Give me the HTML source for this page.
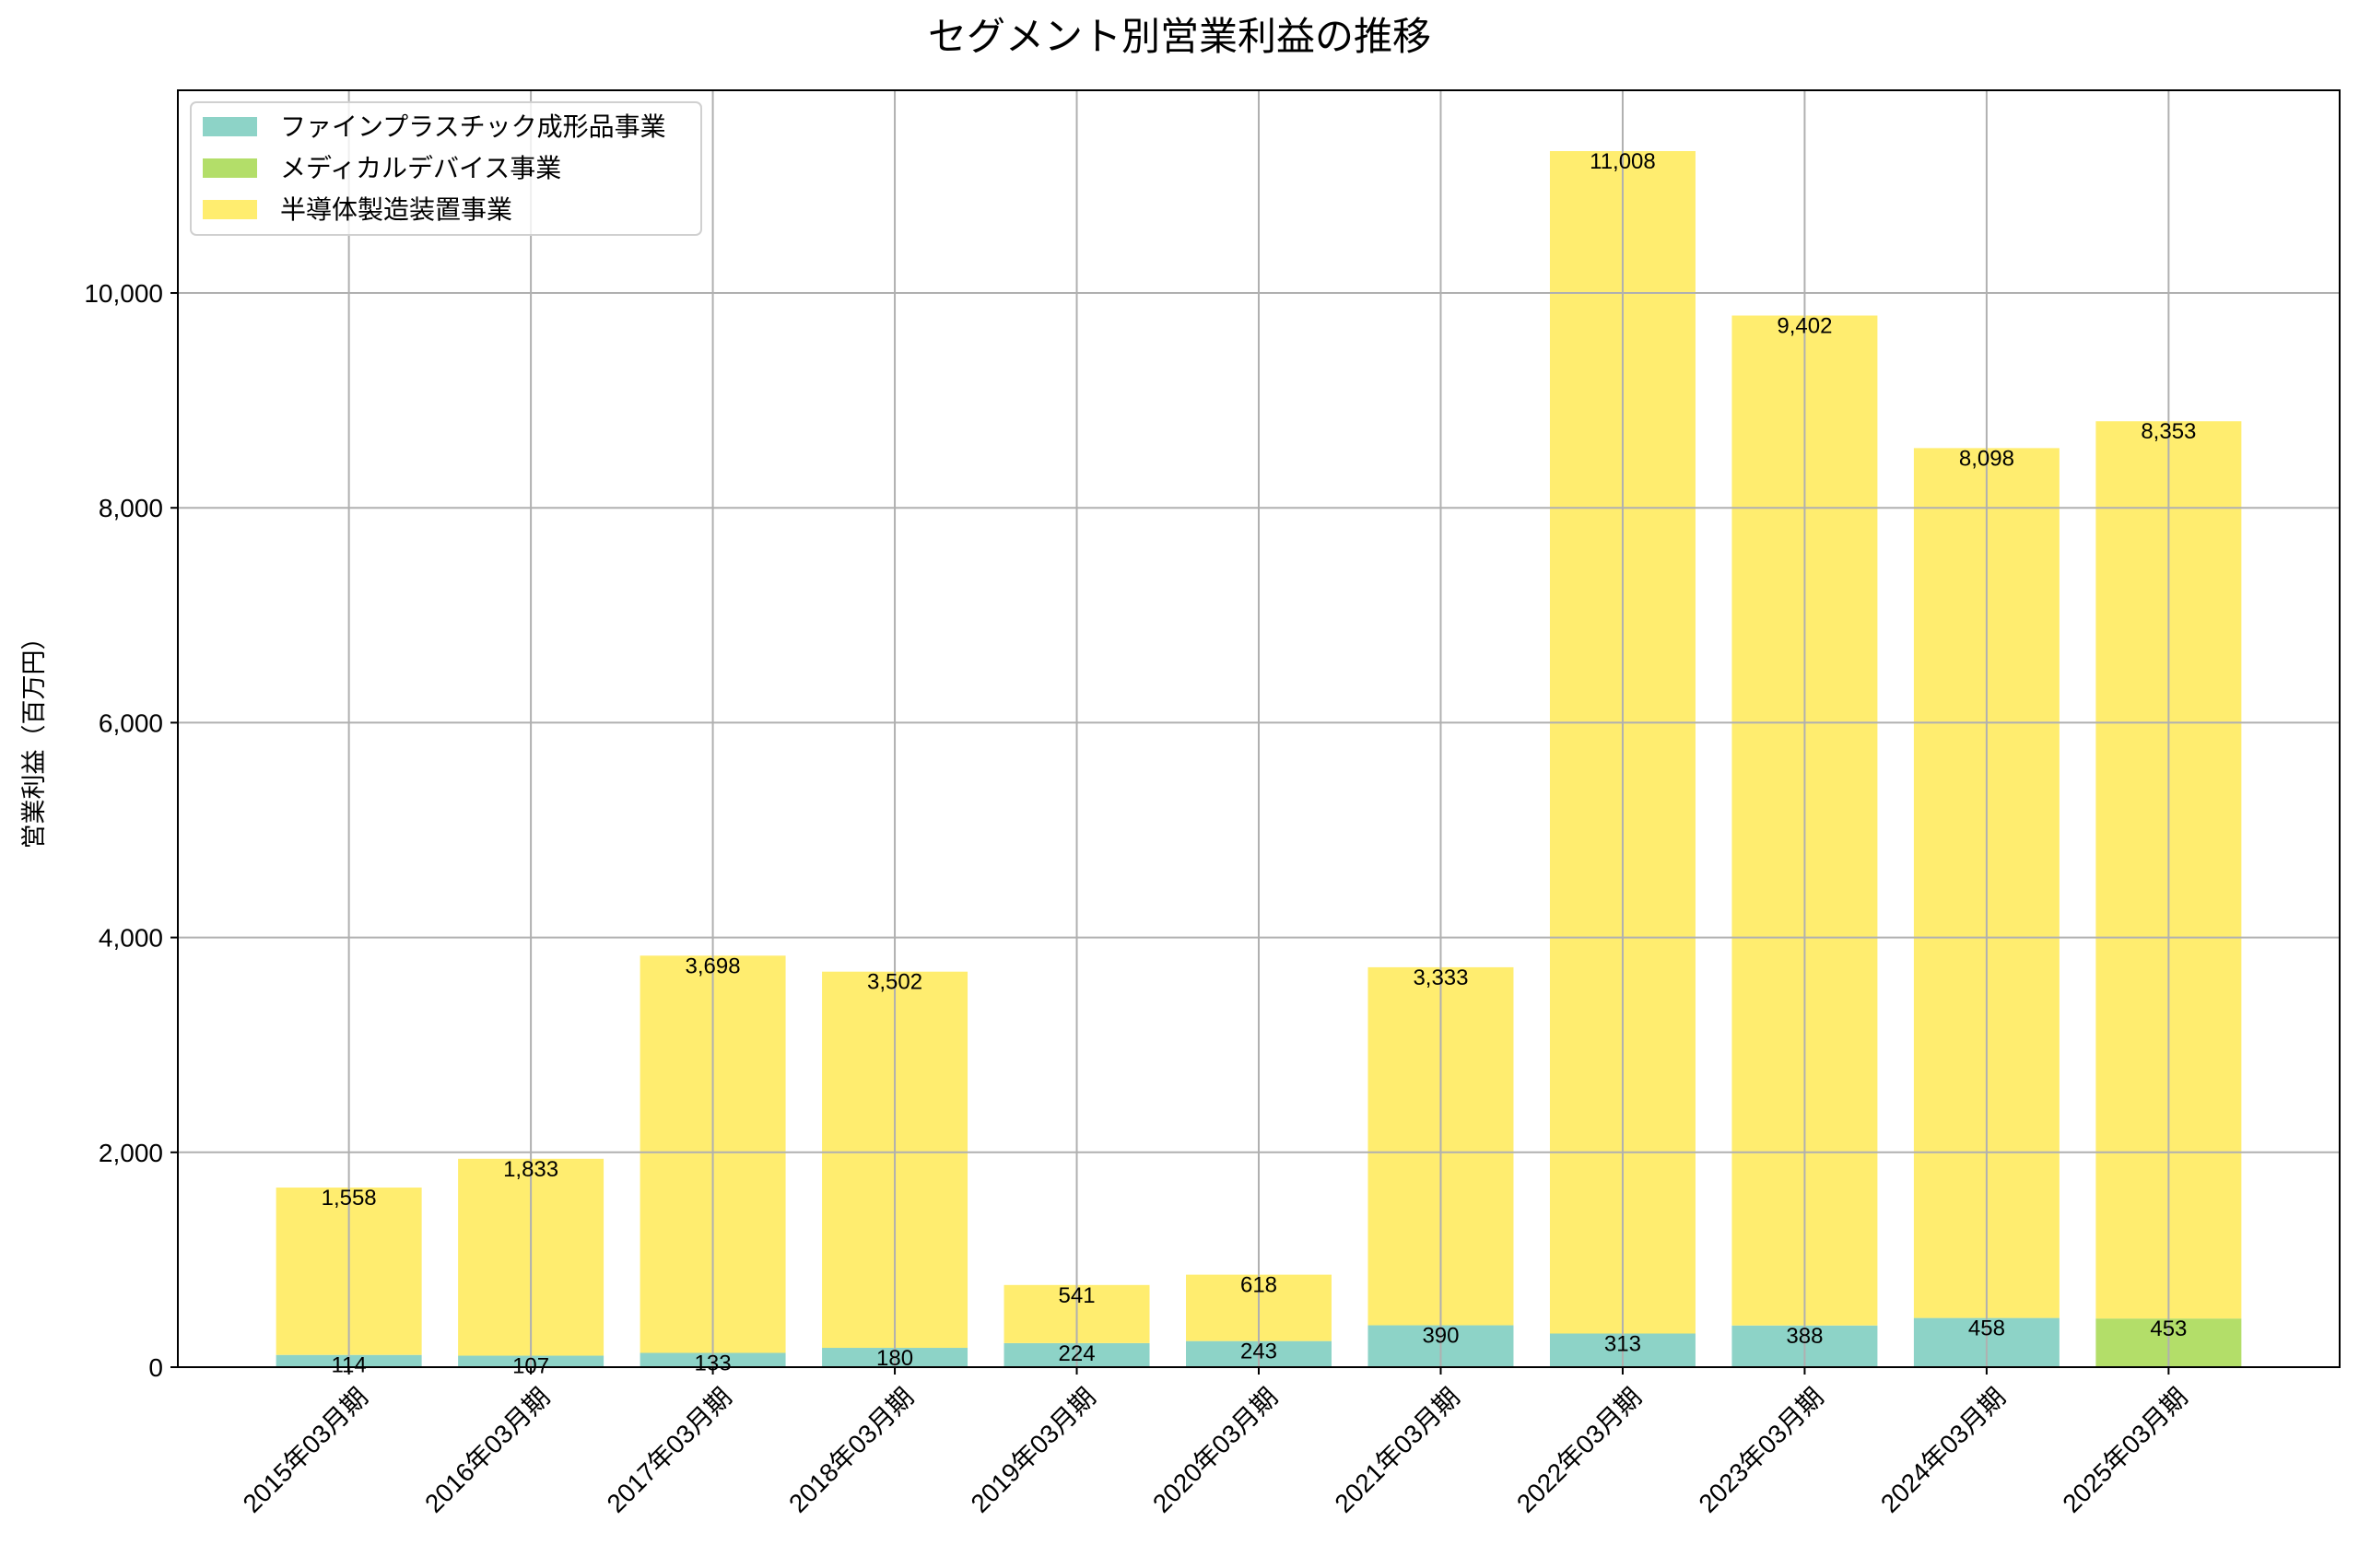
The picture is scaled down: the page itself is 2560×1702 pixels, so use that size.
<!DOCTYPE html>
<html><head><meta charset="utf-8"><style>
body{margin:0;background:#fff}
svg text{font-family:"Liberation Sans","Noto Sans CJK JP",sans-serif;fill:#000}
</style></head><body>
<svg id="chart" width="2560" height="1697" viewBox="0 0 2560 1697" xmlns="http://www.w3.org/2000/svg">
<rect width="2560" height="1697" fill="#fff"/>
<text x="1280" y="54" font-size="42" text-anchor="middle">セグメント別営業利益の推移</text>
<text transform="translate(46,800) rotate(-90)" font-size="27" text-anchor="middle">営業利益（百万円）</text>
<g id="bars"></g><g id="grid"></g><g id="labels"></g><g id="axes"></g>
<g>
<rect x="207" y="111" width="554" height="144" rx="6" fill="#fff" fill-opacity="0.8" stroke="#d0d0d0" stroke-width="2"/>
<rect x="220" y="127" width="59" height="21" fill="#8dd3c7"/>
<text x="304" y="147" font-size="28">ファインプラスチック成形品事業</text>
<rect x="220" y="172" width="59" height="21" fill="#b3de69"/>
<text x="304" y="192" font-size="28">メディカルデバイス事業</text>
<rect x="220" y="217" width="59" height="21" fill="#ffed6f"/>
<text x="304" y="237" font-size="28">半導体製造装置事業</text>
</g>
</svg>
<script>
const categories=["2015年03月期","2016年03月期","2017年03月期","2018年03月期","2019年03月期","2020年03月期","2021年03月期","2022年03月期","2023年03月期","2024年03月期","2025年03月期"];
const finePlastic=[114,107,133,180,224,243,390,313,388,458,0];
const medical=[0,0,0,0,0,0,0,0,0,0,453];
const semiconductor=[1558,1833,3698,3502,541,618,3333,11008,9402,8098,8353];
const yTicks=[0,2000,4000,6000,8000,10000];
const yTickLabels=["0","2,000","4,000","6,000","8,000","10,000"];
const NS="http://www.w3.org/2000/svg";
const L=193,R=2539,T=98,B=1484;
const n=categories.length;
const xmin=-0.4-0.054*n, xmax=n-1+0.4+0.054*n;
const totals=categories.map((c,i)=>finePlastic[i]+medical[i]+semiconductor[i]);
const ymax=Math.max(...totals)*1.05;
const xs=i=>L+(i-(-0.94))/(10.94-(-0.94))*(R-L);
const ys=v=>B-v/ymax*(B-T);
const bw=0.8*(xs(1)-xs(0));
function mk(tag,attrs,parent,txt){const e=document.createElementNS(NS,tag);for(const k in attrs)e.setAttribute(k,attrs[k]);if(txt!==undefined)e.textContent=txt;document.getElementById(parent).appendChild(e);return e;}
const series=[["fine-plastic",finePlastic,"#8dd3c7"],["medical",medical,"#b3de69"],["semiconductor",semiconductor,"#ffed6f"]];
categories.forEach((c,i)=>{
  let base=0;
  series.forEach(([nm,arr,col])=>{
    const v=arr[i];
    if(v>0){
      const r=mk("rect",{x:xs(i)-bw/2,y:ys(base+v),width:bw,height:ys(base)-ys(base+v),fill:col},"bars");
      
      
      const t=mk("text",{x:xs(i),y:ys(base+v)+19,"font-size":24,"text-anchor":"middle"},"labels",v.toLocaleString("en-US"));
      
      
    }
    base+=v;
  });
});
yTicks.forEach((v,k)=>{
  const g=mk("line",{x1:L,x2:R,y1:ys(v),y2:ys(v),stroke:"#b0b0b0","stroke-width":2},"grid");
  
  
  mk("line",{x1:L-8,x2:L,y1:ys(v),y2:ys(v),stroke:"#000","stroke-width":2},"axes");
  const t=mk("text",{x:L-16,y:ys(v)+10,"font-size":28,"text-anchor":"end"},"axes",yTickLabels[k]);
  
  
});
categories.forEach((c,i)=>{
  const g=mk("line",{x1:xs(i),x2:xs(i),y1:T,y2:B,stroke:"#b0b0b0","stroke-width":2},"grid");
  
  
  mk("line",{x1:xs(i),x2:xs(i),y1:B,y2:B+8,stroke:"#000","stroke-width":2},"axes");
  const t=mk("text",{transform:`translate(${xs(i)+8},${B+20}) rotate(-45)`,"font-size":28,"text-anchor":"end","dominant-baseline":"hanging"},"axes",c);
  
  
});
const f=mk("rect",{x:L,y:T,width:R-L,height:B-T,fill:"none",stroke:"#000","stroke-width":2},"axes");


</script>
</body></html>
